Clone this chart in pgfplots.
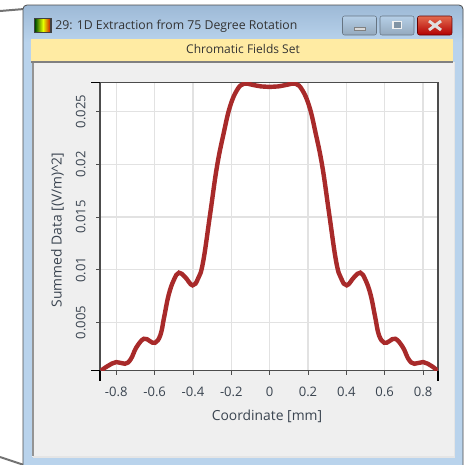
\documentclass[border=0pt]{standalone}
\usepackage{pgfplots}
\usepackage{fontspec}
\setmainfont{Open Sans}
\pgfplotsset{compat=1.18}
\definecolor{winblue}{HTML}{B9D3EC}
\definecolor{wintop}{HTML}{9DB9D6}
\definecolor{panel}{HTML}{EFEFEF}
\definecolor{yellowbar}{HTML}{FFEBA3}
\definecolor{txt}{HTML}{3A4450}
\definecolor{curve}{HTML}{A82A2A}
\definecolor{gridc}{HTML}{E2E2E2}
\pgfplotstableread{
x y
-0.880 0.00043
-0.845 0.00087
-0.800 0.00125
-0.755 0.00109
-0.725 0.00151
-0.695 0.00265
-0.656 0.00346
-0.625 0.00324
-0.598 0.00308
-0.570 0.00381
-0.550 0.00555
-0.527 0.00761
-0.500 0.00903
-0.473 0.00973
-0.440 0.00929
-0.402 0.00853
-0.373 0.00919
-0.347 0.01077
-0.310 0.01536
-0.275 0.01978
-0.240 0.02295
-0.207 0.02548
-0.170 0.02706
-0.135 0.02765
-0.090 0.02755
-0.045 0.02740
0.000 0.02735
0.045 0.02740
0.090 0.02755
0.135 0.02765
0.170 0.02706
0.207 0.02548
0.240 0.02295
0.275 0.01978
0.310 0.01536
0.347 0.01077
0.373 0.00919
0.402 0.00853
0.440 0.00929
0.473 0.00973
0.500 0.00903
0.527 0.00761
0.550 0.00555
0.570 0.00381
0.598 0.00308
0.625 0.00324
0.656 0.00346
0.695 0.00265
0.725 0.00151
0.755 0.00109
0.800 0.00125
0.845 0.00087
0.875 0.00043
}\curvedata
\begin{document}
\begin{tikzpicture}[x=0.75pt,y=-0.75pt]
\useasboundingbox (0,0) rectangle (469,465);
\fill[white] (0,0) rectangle (469,465);
% surrounding outline
\draw[gray!90!black,line width=1.5pt] (0,11) -- (24,9);
\draw[gray!90!black,line width=1.5pt] (0,457) -- (24,465);
% window
\fill[winblue,rounded corners=3pt] (23,5) rectangle (463,475);
\shade[top color=wintop,bottom color=winblue,rounded corners=3pt] (23,5) rectangle (463,42);
\draw[black!70,line width=0.6pt,rounded corners=3pt] (23,475) -- (23,5) -- (463,5) -- (463,475);
% panel
\fill[panel] (32,62) rectangle (454,457);
\fill[black!42] (31.5,60) rectangle (33.5,456);
\fill[black!50] (31,60.5) rectangle (453,62.5);
\fill[white!90!black] (33,456) rectangle (455,458);
\fill[white!90!black] (453.5,62) rectangle (455,458);
\fill[yellowbar] (31,39) rectangle (453,61);
\node[text=black!80,font=\fontsize{9}{11}\selectfont] at (243,49) {Chromatic Fields Set};
% title
\shade[left color=black!70!green,right color=red!80!black,middle color=yellow!90!green] (35,19) rectangle (51,32);
\draw[black!75,line width=0.8pt] (34.5,18.5) rectangle (51,32.5);
\node[anchor=west,inner sep=0pt,text=black!80,font=\fontsize{9.2}{11}\selectfont] at (55,26) {29: 1D Extraction from 75 Degree Rotation};
% buttons
\shade[top color=black!2!winblue,bottom color=winblue!80!black,draw=black!45!winblue,rounded corners=1.5pt] (342.5,16) rectangle (376.5,35);
\shade[top color=black!2!winblue,bottom color=winblue!80!black,draw=black!45!winblue,rounded corners=1.5pt] (380,16) rectangle (414,35);
\shade[top color=red!45!brown!80,bottom color=red!70!black,draw=black!60!red,rounded corners=1.5pt] (417.5,16) rectangle (452,35);
\fill[white!85!black,draw=black!50] (354,27) rectangle (365,30);
\draw[white!95!black,line width=1.2pt,fill=black!30!winblue] (393,21.5) rectangle (401.5,28.5);
\draw[white!88!black,line width=2.2pt] (429,21) -- (441,30) (441,21) -- (429,30);
\begin{axis}[
  at={(75pt,-278.03pt)},anchor=south west,
  scale only axis,width=253.5pt,height=216.15pt,
  xmin=-0.885,xmax=0.878,ymin=0.00043,ymax=0.02777,
  axis background/.style={fill=white},
  scaled y ticks=false,scaled x ticks=false,
  xtick={-0.8,-0.6,-0.4,-0.2,0,0.2,0.4,0.6,0.8},
  xticklabels={-0.8,-0.6,-0.4,-0.2,0,0.2,0.4,0.6,0.8},
  ytick={0.005,0.01,0.015,0.02,0.025},
  yticklabels={0.005,0.01,0.015,0.02,0.025},
  xtick pos=lower,ytick pos=left,tick align=outside,
  major tick length=3pt,
  tick style={black!70,line width=0.6pt},
  grid=major,
  major grid style={gridc,line width=1pt},
  axis line style={black!70,line width=0.8pt},
  ticklabel style={text=txt,font=\fontsize{9.8}{11}\selectfont},
  /pgf/number format/assume math mode=true,
  xticklabel style={anchor=center,yshift=-12.5pt},
  yticklabel style={rotate=90,anchor=center,yshift=11.5pt},
  xlabel={Coordinate [mm]},
  ylabel={Summed Data [(V/m)\textasciicircum 2]},
  label style={text=txt,font=\fontsize{10.4}{12}\selectfont},
  xlabel style={at={(axis description cs:0.5,0)},anchor=center,yshift=-34.5pt,xshift=-1.5pt},
  ylabel style={at={(axis description cs:0,0.5)},anchor=center,yshift=32pt,xshift=-2.5pt},
]
\addplot[curve,line width=3.3pt,smooth,tension=0.7] table {\curvedata};
\end{axis}
% corner ticks
\draw[black,line width=1pt] (91,82.5) -- (100,82.5) (91,370.7) -- (100,370.7) (100,370.7) -- (100,381) (438,370.7) -- (438,381);
\end{tikzpicture}
\end{document}
